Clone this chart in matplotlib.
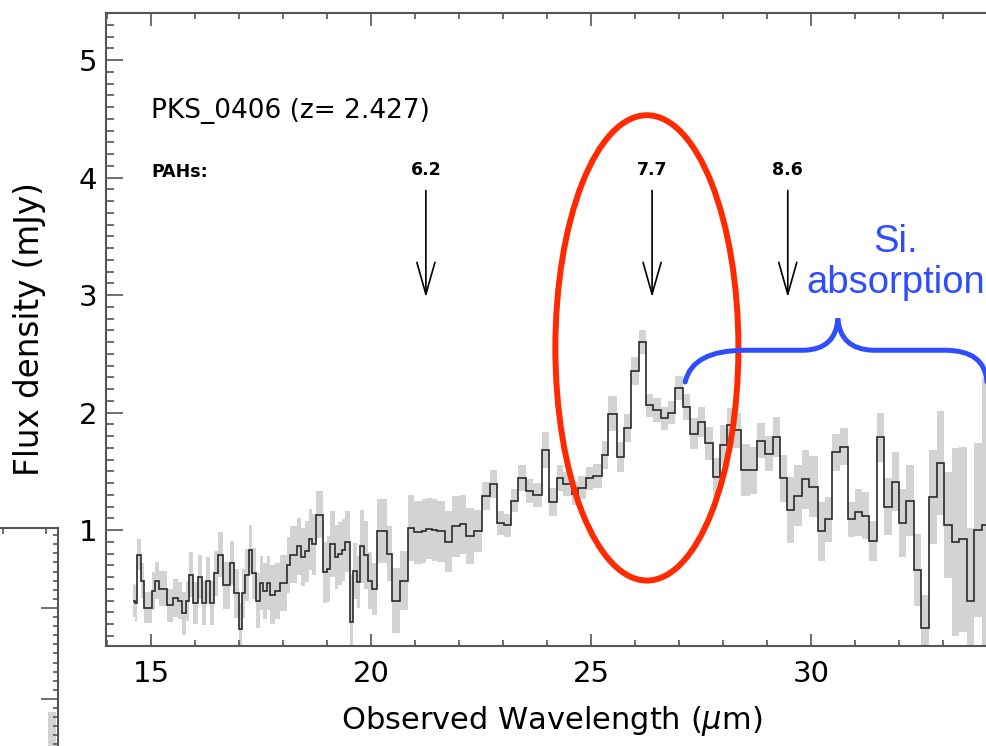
import numpy as np
import matplotlib
matplotlib.use("Agg")
import matplotlib.pyplot as plt
from matplotlib.patches import Ellipse, PathPatch
from matplotlib.path import Path
from matplotlib.ticker import MultipleLocator, FixedLocator

# ---------------- data ----------------
wave_lo = [
    14.58, 14.64, 14.69, 14.77, 14.83, 14.92, 15.02, 15.09, 15.19, 15.27,
    15.36, 15.51, 15.62, 15.71, 15.79, 15.86, 15.96, 16.06, 16.15, 16.25,
    16.33, 16.44, 16.53, 16.64, 16.80, 16.89, 16.99, 17.06, 17.14, 17.23,
    17.30, 17.39, 17.48, 17.55, 17.63, 17.71, 17.82, 17.93, 18.08, 18.16,
    18.31, 18.41, 18.50, 18.58, 18.67, 18.75, 18.83, 18.92, 18.99, 19.07,
    19.18, 19.26, 19.33, 19.41, 19.52, 19.60, 19.69, 19.76, 19.84, 19.94,
    20.03, 20.13, 20.36, 20.47, 20.66, 20.83, 20.98, 21.15, 21.26, 21.38,
    21.49, 21.68, 21.83, 22.02, 22.17, 22.33, 22.52, 22.71, 22.86, 23.03,
    23.18, 23.35, 23.52, 23.69, 23.88, 24.05, 24.22, 24.37, 24.56, 24.71,
    24.89, 25.05, 25.24, 25.39, 25.58, 25.74, 25.91, 26.09, 26.25, 26.42,
    26.59, 26.76, 26.92, 27.10, 27.25, 27.44, 27.59, 27.78, 27.93, 28.08,
    28.23, 28.42, 28.61, 28.78, 28.95, 29.14, 29.29, 29.45, 29.61, 29.79,
    29.96, 30.15, 30.32, 30.48, 30.66, 30.83, 31.00, 31.15, 31.32, 31.49,
    31.67, 31.83, 32.01, 32.17, 32.35, 32.51, 32.69, 32.86, 33.02, 33.20,
    33.36, 33.54, 33.70, 33.88,
]
wave_hi_last = 34.05

flux = [
    0.40, 0.38, 0.79, 0.57, 0.34, 0.34, 0.48, 0.57, 0.50, 0.50,
    0.36, 0.42, 0.40, 0.29, 0.40, 0.62, 0.38, 0.60, 0.38, 0.57,
    0.38, 0.63, 0.79, 0.53, 0.72, 0.46, 0.16, 0.46, 0.62, 0.83,
    0.63, 0.40, 0.55, 0.48, 0.55, 0.45, 0.48, 0.55, 0.70, 0.79,
    0.86, 0.77, 0.82, 0.92, 0.88, 1.13, 1.13, 0.64, 0.67, 0.88,
    0.77, 0.80, 0.83, 0.90, 0.22, 0.65, 0.56, 0.86, 0.79, 0.57,
    0.50, 0.99, 0.80, 0.40, 0.57, 1.02, 0.98, 0.99, 1.01, 1.00,
    0.99, 0.90, 1.03, 1.05, 0.95, 0.99, 1.29, 1.39, 1.06, 1.04,
    1.25, 1.44, 1.33, 1.30, 1.68, 1.24, 1.44, 1.39, 1.31, 1.36,
    1.44, 1.46, 1.64, 1.99, 1.62, 1.87, 2.35, 2.60, 2.06, 2.02,
    1.95, 2.00, 2.21, 2.05, 1.82, 1.92, 1.74, 1.45, 1.72, 1.89,
    1.85, 1.51, 1.51, 1.76, 1.65, 1.79, 1.44, 1.17, 1.29, 1.43,
    1.37, 0.99, 1.09, 1.66, 1.71, 1.09, 1.15, 1.12, 0.91, 1.79,
    1.20, 1.41, 1.06, 1.25, 0.66, 0.17, 1.28, 1.57, 1.04, 0.90,
    0.92, 0.40, 1.00, 1.04,
]

flux_err = [
    0.14, 0.15, 0.13, 0.15, 0.13, 0.13, 0.16, 0.16, 0.15, 0.15,
    0.14, 0.16, 0.16, 0.18, 0.17, 0.19, 0.18, 0.19, 0.19, 0.20,
    0.19, 0.19, 0.19, 0.20, 0.19, 0.21, 0.22, 0.21, 0.22, 0.21,
    0.22, 0.23, 0.23, 0.24, 0.23, 0.25, 0.24, 0.24, 0.24, 0.24,
    0.24, 0.25, 0.26, 0.26, 0.26, 0.20, 0.20, 0.26, 0.28, 0.28,
    0.27, 0.27, 0.26, 0.26, 0.40, 0.24, 0.22, 0.31, 0.29, 0.24,
    0.22, 0.27, 0.23, 0.28, 0.25, 0.28, 0.27, 0.27, 0.26, 0.26,
    0.26, 0.26, 0.26, 0.25, 0.24, 0.18, 0.12, 0.12, 0.10, 0.10,
    0.10, 0.11, 0.10, 0.10, 0.15, 0.12, 0.11, 0.10, 0.10, 0.10,
    0.10, 0.10, 0.12, 0.15, 0.13, 0.12, 0.12, 0.10, 0.10, 0.10,
    0.10, 0.10, 0.10, 0.11, 0.13, 0.13, 0.14, 0.16, 0.17, 0.15,
    0.15, 0.22, 0.20, 0.15, 0.15, 0.17, 0.20, 0.28, 0.26, 0.25,
    0.26, 0.25, 0.19, 0.16, 0.16, 0.15, 0.20, 0.20, 0.17, 0.21,
    0.24, 0.25, 0.29, 0.30, 0.31, 0.28, 0.40, 0.44, 0.45, 0.80,
    0.79, 0.62, 0.74, 1.25,
]

x_major_ticks = [15, 20, 25, 30]
y_major_ticks = [1, 2, 3, 4, 5]

source_name = "PKS_0406"
redshift = 2.427
pah_rest = [6.2, 7.7, 8.6]
pah_labels = ["6.2", "7.7", "8.6"]

# ---------------- figure ----------------
W, H = 987, 746
fig = plt.figure(figsize=(W / 100, H / 100), dpi=100)
fig.patch.set_facecolor("white")

AX_COL = "#555555"
ax = fig.add_axes([106 / W, 100 / H, 881 / W, 633 / H])

edges = np.array(wave_lo + [wave_hi_last])
f = np.array(flux)
e = np.array(flux_err)
ax.stairs(f + e, edges, baseline=f - e, fill=True, color="#d3d3d3", lw=0, zorder=1)
ax.stairs(f, edges, baseline=None, color="#2a2a2a", lw=1.2, zorder=2)

ax.set_xlim(13.977, 34.0)
ax.set_ylim(0.013, 5.40)

ax.xaxis.set_major_locator(FixedLocator(x_major_ticks))
ax.xaxis.set_minor_locator(MultipleLocator(1))
ax.yaxis.set_major_locator(FixedLocator(y_major_ticks))
ax.yaxis.set_minor_locator(MultipleLocator(0.1))

ax.tick_params(which="both", direction="in", top=True, right=False,
               color=AX_COL, width=1.2)
ax.tick_params(axis="x", which="major", length=9, pad=10, labelsize=21)
ax.tick_params(axis="x", which="minor", length=4.5)
ax.tick_params(axis="y", which="major", length=12, pad=6.5, labelsize=21)
ax.tick_params(axis="y", which="minor", length=5.5)
for lab in ax.get_xticklabels() + ax.get_yticklabels():
    lab.set_family("DejaVu Sans")

for s in ["left", "bottom", "top"]:
    ax.spines[s].set_color(AX_COL)
    ax.spines[s].set_linewidth(1.5)
ax.spines["right"].set_visible(False)

ax.set_xlabel("Observed Wavelength ($\\mu$m)", fontsize=22, family="DejaVu Sans")
ax.xaxis.set_label_coords(0.506, -0.092)
ax.xaxis.label.set_va("top")
ax.set_ylabel("Flux density (mJy)", fontsize=23.5, family="DejaVu Sans")
ax.yaxis.set_label_coords(-0.068, 0.5)

# titles
ax.text(15.0, 4.566, f"{source_name} (z= {redshift:.3f})", fontsize=19,
        family="DejaVu Sans", ha="left", va="center")
ax.text(15.0, 4.047, "PAHs:", fontsize=12.5, fontweight="bold",
        family="DejaVu Sans", ha="left", va="center")

# PAH arrows
for rest, lab in zip(pah_rest, pah_labels):
    xo = rest * (1 + redshift)
    ax.annotate("", xy=(xo, 2.98), xytext=(xo, 3.89),
                arrowprops=dict(arrowstyle="->,head_length=23,head_width=6.5",
                                mutation_scale=1, lw=1.2, color="black",
                                shrinkA=0, shrinkB=0))
    ax.text(xo, 4.06, lab, fontsize=12.5, fontweight="bold",
            family="DejaVu Sans", ha="center", va="center")

# red ellipse around the 7.7 micron feature
ellipse_center = (26.27, 2.55)
ellipse_size = (4.16, 3.96)
ax.add_patch(Ellipse(ellipse_center, ellipse_size[0], ellipse_size[1],
                     fill=False, ec="#ff2a00", lw=4.3, clip_on=False, zorder=5))

# blue brace for Si absorption
brace_pts = [(27.14, 2.26), (27.30, 2.53), (28.50, 2.53), (29.85, 2.53),
             (30.57, 2.54), (30.61, 2.80), (30.66, 2.54), (31.40, 2.53),
             (33.05, 2.53), (33.95, 2.53), (34.0, 2.26)]
brace_codes = [Path.MOVETO, Path.CURVE3, Path.CURVE3, Path.LINETO,
               Path.CURVE3, Path.CURVE3, Path.CURVE3, Path.CURVE3,
               Path.LINETO, Path.CURVE3, Path.CURVE3]
ax.add_patch(PathPatch(Path(brace_pts, brace_codes), fill=False,
                       ec="#2e4dff", lw=3.6, clip_on=False, zorder=5,
                       capstyle="round"))
ax.text(31.93, 3.28, "Si.\nabsorption", fontsize=27.5, family="Liberation Sans",
        color="#2e4dff", ha="center", va="center", multialignment="center",
        linespacing=1.18, clip_on=False)

# fragment of a neighbouring panel at lower left
frag_bar_x = [194]
frag_bar_lo = [-0.176]
frag_bar_hi = [0.857]
ax2 = fig.add_axes([-142 / W, -60 / H, 200 / W, 278 / H])
ax2.patch.set_visible(False)
ax2.set_xlim(0, 200)
ax2.set_ylim(-0.176, 2.879)
ax2.bar(frag_bar_x, np.array(frag_bar_hi) - np.array(frag_bar_lo),
        bottom=frag_bar_lo, width=8, color="#d3d3d3")
for s in ["left", "bottom"]:
    ax2.spines[s].set_visible(False)
for s in ["top", "right"]:
    ax2.spines[s].set_color(AX_COL)
    ax2.spines[s].set_linewidth(1.5)
ax2.xaxis.set_ticks_position("top")
ax2.yaxis.set_ticks_position("right")
ax2.set_xticks([145, 188])
ax2.set_yticks([1, 2])
ax2.yaxis.set_minor_locator(MultipleLocator(0.1))
ax2.tick_params(which="both", direction="in", color=AX_COL, width=1.2,
                labeltop=False, labelright=False, labelbottom=False, labelleft=False)
ax2.tick_params(axis="x", which="major", length=4.5)
ax2.tick_params(axis="y", which="major", length=12)
ax2.tick_params(axis="y", which="minor", length=3.8)

fig.savefig("out.png", dpi=100)
